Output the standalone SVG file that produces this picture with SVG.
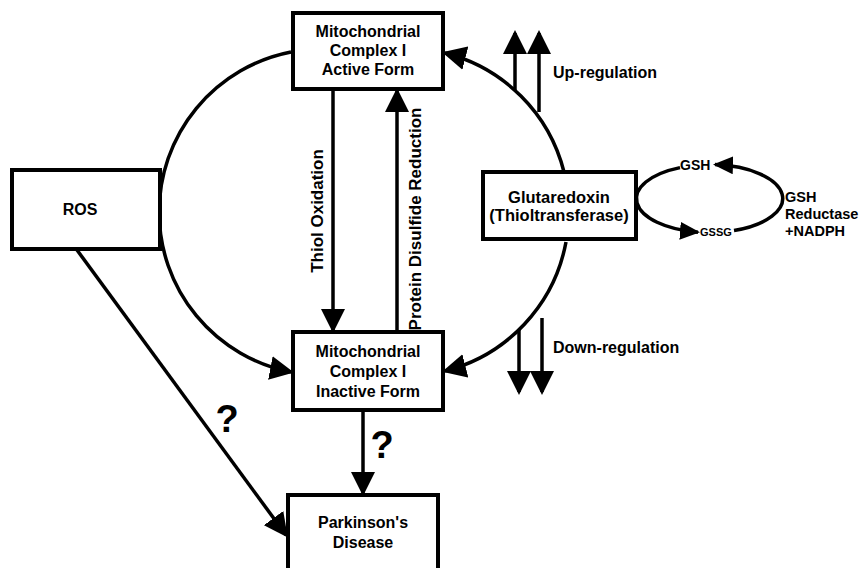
<svg xmlns="http://www.w3.org/2000/svg" width="862" height="568" viewBox="0 0 862 568">
<style>
  .box { fill: #fff; stroke: #000; stroke-width: 4; }
  .t { font-family: "Liberation Sans", Arial, sans-serif; font-weight: bold; font-size: 16px; fill: #000; }
  .c { text-anchor: middle; }
  .v { font-size: 17px; }
  .q { font-size: 38px; }
  .r { font-size: 14.5px; }
  .ln { fill: none; stroke: #000; stroke-width: 3.5; }
  .arr { marker-end: url(#ah); }
  .sarr { marker-end: url(#ahs); }
</style>
<defs>
  <marker id="ah" markerUnits="userSpaceOnUse" markerWidth="24" markerHeight="24" viewBox="0 0 24 24" refX="21" refY="12" orient="auto">
    <path d="M0,0 L24,12 L0,24 z" fill="#000"/>
  </marker>
  <marker id="ahs" markerUnits="userSpaceOnUse" markerWidth="20" markerHeight="18" viewBox="0 0 20 18" refX="18" refY="9" orient="auto">
    <path d="M0,0 L20,9 L0,18 z" fill="#000"/>
  </marker>
</defs>
<rect width="862" height="568" fill="#fff"/>

<g id="connectors">
  <!-- big cycle -->
  <path class="ln arr" d="M 291 52 A 163 163 0 0 0 291 372"/>
  <path class="ln arr" d="M 564 172 A 164 164 0 0 0 445 53"/>
  <path class="ln arr" d="M 566 242 A 164 164 0 0 1 445 371"/>
  <!-- vertical arrows -->
  <path class="ln arr" d="M 333 91 L 333 330"/>
  <path class="ln arr" d="M 397 330 L 397 91"/>
  <!-- regulation arrows -->
  <path class="ln arr" d="M 515 91 L 515 33"/>
  <path class="ln arr" d="M 539 112 L 539 33"/>
  <path class="ln arr" d="M 519 329 L 519 392"/>
  <path class="ln arr" d="M 542 318 L 542 392"/>
  <!-- to Parkinson's -->
  <path class="ln arr" d="M 363 412 L 363 493"/>
  <path class="ln arr" d="M 77 250 L 286 535"/>
  <!-- GSH loop -->
  <path class="ln sarr" d="M 680 167.6 A 73.5 34 0 0 0 698 232.2"/>
  <path class="ln sarr" d="M 734 230.5 A 73.5 34 0 0 0 715 164.6"/>
  <!-- labels -->
  <text class="t c v" transform="translate(323 211) rotate(-90)">Thiol Oxidation</text>
  <text class="t c v" transform="translate(421 219) rotate(-90)">Protein Disulfide Reduction</text>
  <text class="t" x="553" y="78">Up-regulation</text>
  <text class="t" x="553" y="353">Down-regulation</text>
  <text class="t c q" x="227" y="432">?</text>
  <text class="t c q" x="382" y="458">?</text>
  <text class="t" x="680" y="170" style="font-size:14px">GSH</text>
  <text class="t" x="700" y="236" style="font-size:11px">GSSG</text>
  <text class="t r" x="785" y="202">GSH</text>
  <text class="t r" x="785" y="219">Reductase</text>
  <text class="t r" x="785" y="236">+NADPH</text>
</g>

<g id="node-active">
  <rect class="box" x="293" y="13" width="150" height="76"/>
  <text class="t c" x="368" y="37">Mitochondrial</text>
  <text class="t c" x="368" y="56">Complex I</text>
  <text class="t c" x="368" y="75">Active Form</text>
</g>

<g id="node-inactive">
  <rect class="box" x="293" y="332" width="150" height="78"/>
  <text class="t c" x="368" y="357">Mitochondrial</text>
  <text class="t c" x="368" y="377">Complex I</text>
  <text class="t c" x="368" y="397">Inactive Form</text>
</g>

<g id="node-ros">
  <rect class="box" x="12" y="170" width="148" height="79"/>
  <text class="t c" x="80" y="215">ROS</text>
</g>

<g id="node-glutaredoxin">
  <rect class="box" x="483" y="172" width="153" height="67"/>
  <text class="t c" x="559" y="203" style="font-size:16.5px">Glutaredoxin</text>
  <text class="t c" x="559" y="221" style="font-size:16.5px">(Thioltransferase)</text>
</g>

<g id="node-parkinsons">
  <rect class="box" x="288" y="495" width="150" height="90"/>
  <text class="t c" x="363" y="528">Parkinson's</text>
  <text class="t c" x="363" y="548">Disease</text>
</g>
</svg>
